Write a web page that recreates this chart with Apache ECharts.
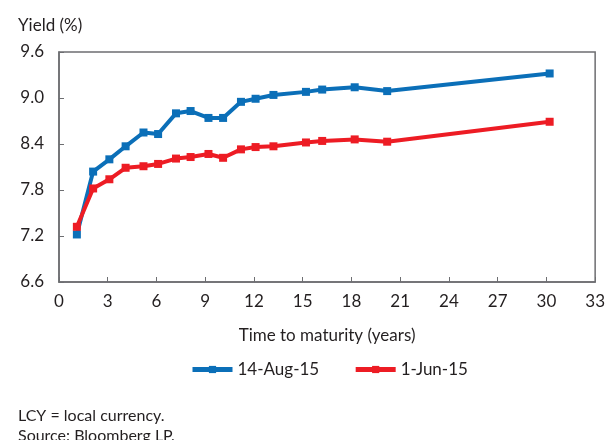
<!DOCTYPE html>
<html><head><meta charset="utf-8">
<script src="https://cdn.jsdelivr.net/npm/echarts@6/dist/echarts.min.js"></script>
<style>html,body{margin:0;padding:0;background:#fff}#c{width:608px;height:440px}</style>
</head><body><div id="c"></div>
<script>
const maturities = [1.1, 2.1, 3.1, 4.1, 5.2, 6.1, 7.2, 8.1, 9.2, 10.1, 11.2, 12.1, 13.2, 15.2, 16.2, 18.2, 20.2, 30.2];
const aug15 = [7.22, 8.04, 8.20, 8.37, 8.55, 8.53, 8.80, 8.83, 8.74, 8.74, 8.95, 8.99, 9.04, 9.08, 9.11, 9.14, 9.09, 9.32];
const jun15 = [7.32, 7.82, 7.94, 8.09, 8.11, 8.14, 8.21, 8.23, 8.27, 8.22, 8.33, 8.36, 8.37, 8.42, 8.44, 8.46, 8.43, 8.69];
const seriesNames = ['14-Aug-15', '1-Jun-15'];
const font = 'Lato';
const txt = '#231f20';
const chart = echarts.init(document.getElementById('c'), null, {renderer: 'canvas'});
const mk = (name, vals, color) => ({
  name, type: 'line', data: maturities.map((m, i) => [m, vals[i]]),
  symbol: 'rect', symbolSize: 8, showSymbol: true,
  lineStyle: {width: 4, color}, itemStyle: {color}, animation: false
});
chart.setOption({
  animation: false,
  textStyle: {fontFamily: font, color: txt},
  grid: {left: 59, right: 12, top: 52, bottom: 158, show: true, borderColor: '#6d6e71', borderWidth: 1.5},
  title: [
    {text: 'Yield (%)', left: 13, top: 12, textStyle: {fontFamily: font, fontSize: 17, fontWeight: 'normal', color: txt}},
    {text: 'LCY = local currency.\nSource: Bloomberg LP.', left: 13, top: 401, textStyle: {fontFamily: font, fontSize: 16, fontWeight: 'normal', color: txt, lineHeight: 20}}
  ],
  legend: {
    data: seriesNames, top: 356, left: 185, itemWidth: 40, itemHeight: 9, itemGap: 34,
    lineStyle: {width: 5},
    textStyle: {fontFamily: font, fontSize: 17, color: txt}
  },
  xAxis: {
    type: 'value', min: 0, max: 33, interval: 3,
    name: 'Time to maturity (years)', nameLocation: 'middle', nameGap: 45,
    nameTextStyle: {fontFamily: font, fontSize: 17, color: txt},
    axisLine: {show: true, lineStyle: {color: '#6d6e71', width: 1.5}},
    axisTick: {show: true, inside: true, length: 5, lineStyle: {color: '#6d6e71'}},
    axisLabel: {fontFamily: font, fontSize: 17, color: txt, margin: 11},
    splitLine: {show: false}
  },
  yAxis: {
    type: 'value', min: 6.6, max: 9.6, interval: 0.6,
    axisLine: {show: true, lineStyle: {color: '#6d6e71', width: 1.5}},
    axisTick: {show: true, inside: true, length: 5, lineStyle: {color: '#6d6e71'}},
    axisLabel: {fontFamily: font, fontSize: 17, color: txt, margin: 15, formatter: v => v.toFixed(1)},
    splitLine: {show: false}
  },
  series: [mk(seriesNames[0], aug15, '#0b6fb8'), mk(seriesNames[1], jun15, '#ed1c24')]
});
</script></body></html>
